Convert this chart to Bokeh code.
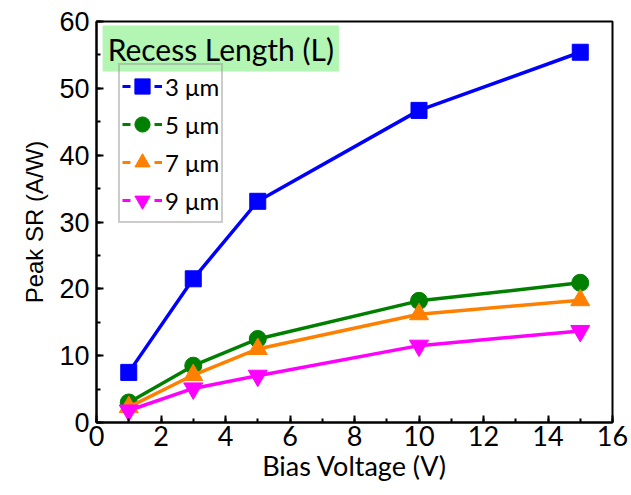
from bokeh.plotting import figure
from bokeh.models import Legend, LegendItem, Label, ColumnDataSource, FixedTicker
from bokeh.embed import file_html
from bokeh.resources import INLINE

bias_v = [1, 3, 5, 10, 15]
sr_3um = [7.5, 21.5, 33.1, 46.7, 55.4]
sr_5um = [3.0, 8.5, 12.5, 18.2, 20.9]
sr_7um = [2.3, 7.1, 11.0, 16.2, 18.3]
sr_9um = [1.8, 5.1, 7.0, 11.5, 13.7]
series_labels = ["3 \u03bcm", "5 \u03bcm", "7 \u03bcm", "9 \u03bcm"]
legend_title = "Recess Length (L)"
x_label = "Bias Voltage (V)"
y_label = "Peak SR (A/W)"

colors = ["#0000ff", "#007f00", "#ff8000", "#ff00ff"]
markers = ["square", "circle", "triangle", "inverted_triangle"]
sizes = [16, 17, 19, 19]

p = figure(width=631, height=495, x_range=(0, 16), y_range=(0, 60),
           output_backend="svg", toolbar_location=None,
           min_border_left=96, min_border_right=19, min_border_top=21, min_border_bottom=73)
p.grid.visible = False
p.outline_line_color = "black"
p.outline_line_width = 2

for ax in (p.xaxis[0], p.yaxis[0]):
    ax.axis_line_width = 2
    ax.major_tick_line_width = 2
    ax.minor_tick_line_width = 2
    ax.major_tick_in = 7
    ax.major_tick_out = 0
    ax.minor_tick_in = 4
    ax.minor_tick_out = 0
    ax.major_label_text_color = "black"
    ax.axis_label_text_color = "black"
    ax.axis_label_text_font_style = "normal"

p.xaxis.ticker = FixedTicker(ticks=list(range(0, 17, 2)), minor_ticks=list(range(0, 17)))
p.yaxis.ticker = FixedTicker(ticks=list(range(0, 61, 10)), minor_ticks=list(range(0, 61, 5)))
p.xaxis.major_label_text_font = "Lato"
p.xaxis.major_label_text_font_size = "27px"
p.xaxis.axis_label = x_label
p.xaxis.axis_label_text_font = "Lato"
p.xaxis.axis_label_text_font_size = "27px"
p.xaxis.axis_label_standoff = 0
p.xaxis.major_label_standoff = 3
p.yaxis.major_label_text_font = "Liberation Sans"
p.yaxis.major_label_text_font_size = "27px"
p.yaxis.axis_label = y_label
p.yaxis.axis_label_text_font = "Liberation Sans"
p.yaxis.axis_label_text_font_size = "24px"
p.yaxis.axis_label_standoff = 8
p.yaxis.major_label_standoff = 7

all_series = [sr_3um, sr_5um, sr_7um, sr_9um]
items = []
for ys, c, m, s, lab in zip(all_series, colors, markers, sizes, series_labels):
    p.line(bias_v, ys, line_color=c, line_width=3.5)
    p.scatter(bias_v, ys, marker=m, size=s, fill_color=c, line_color=c)
    offscreen = ColumnDataSource(data=dict(x=[-100, -99], y=[-100, -99]))
    lr = p.line("x", "y", source=offscreen, line_color=c, line_width=3, line_dash="8 24")
    sr = p.scatter("x", "y", source=offscreen, marker=m, size=s, fill_color=c, line_color=c)
    items.append(LegendItem(label=lab, renderers=[lr, sr], index=0))

legend = Legend(items=items, location=(22, 199), orientation="vertical",
                label_text_font="Lato", label_text_font_size="24px", label_text_color="black",
                glyph_width=40, glyph_height=38, spacing=0, padding=2, margin=0,
                label_standoff=3, border_line_color="#999999", border_line_width=2,
                background_fill_alpha=0)
p.add_layout(legend, "center")

title = Label(x=0.19, y=59.4, text=legend_title, text_baseline="top", text_align="left",
              text_font="Lato", text_font_size="30px", text_color="black",
              background_fill_color="#b3f5b3", padding=5)
p.add_layout(title)

open("out.html", "w").write(file_html(p, INLINE))
